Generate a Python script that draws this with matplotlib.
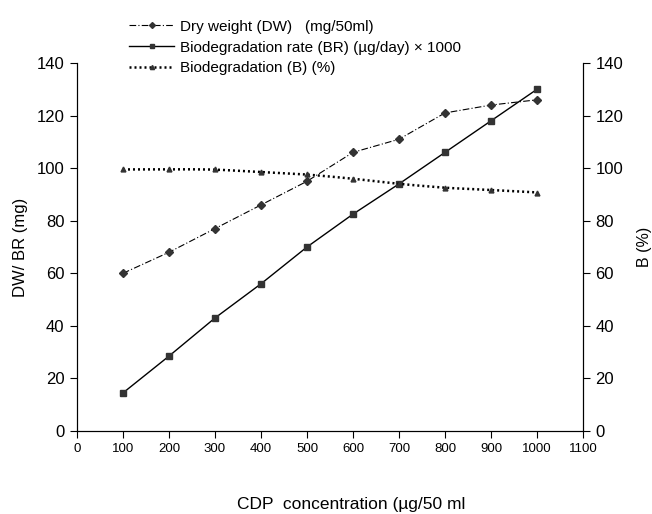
import numpy as np
import matplotlib
matplotlib.use('Agg')
import matplotlib.pyplot as plt
from matplotlib.lines import Line2D

plt.rcParams['font.family'] = ['Liberation Sans', 'DejaVu Sans']

conc = [100, 200, 300, 400, 500, 600, 700, 800, 900, 1000]
dw = [60, 68, 77, 86, 95, 106, 111, 121, 124, 126]          # mg/50ml
br = [14.5, 28.5, 43, 56, 70, 82.5, 94, 106, 118, 130]      # ug/day x 1000
bio = [99.5, 99.6, 99.5, 98.5, 97.6, 96, 94, 92.5, 91.7, 90.7]  # %

W, H = 652, 514
fig = plt.figure(figsize=(W/100, H/100), dpi=100)
ax = fig.add_axes([77/W, 1-431/H, (583-77)/W, (431-63)/H])
ax2 = ax.twinx()

dashdot = (0, (6, 2, 1, 2))
ax.plot(conc, dw, color='black', lw=0.8, ls=dashdot,
        marker='D', ms=4, mfc='#333333', mec='#333333')
ax.plot(conc, br, color='black', lw=1.0, ls='-',
        marker='s', ms=4, mfc='#333333', mec='#333333')

# smoothed line for B (spreadsheet style)
xs = np.linspace(conc[0], conc[-1], 200)
bs = np.interp(xs, conc, bio)
k = np.ones(15) / 15
bs_s = np.convolve(np.pad(bs, 7, mode='edge'), k, mode='valid')
ax2.plot(xs, bs_s, color='black', lw=1.8, ls=(0, (0.8, 1.2)))
ax2.plot(conc, bio, ls='none', marker='^', ms=3.5, mfc='#333333', mec='#333333')

for a in (ax, ax2):
    a.set_ylim(0, 140)
    a.set_yticks(np.arange(0, 141, 20))
    a.spines['top'].set_visible(False)
    a.tick_params(labelsize=12, direction='out', length=5, width=0.8, pad=4)
ax.set_xlim(0, 1100)
ax.set_xticks(np.arange(0, 1101, 100))
ax.tick_params(axis='x', labelsize=9.5)

fig.text(21/W, 1-247/H, 'DW/ BR (mg)', rotation=90, ha='center', va='center', fontsize=12)
fig.text(644/W, 1-247/H, 'B (%)', rotation=90, ha='center', va='center', fontsize=11.5)
fig.text(237/W, 1-504/H, 'CDP  concentration (µg/50 ml', ha='left', va='center', fontsize=12.5)

handles = [
    Line2D([], [], color='black', lw=0.8, ls=dashdot, marker='D', ms=3, mfc='#333333', mec='#333333'),
    Line2D([], [], color='black', lw=1.0, marker='s', ms=3, mfc='#333333', mec='#333333'),
    Line2D([], [], color='black', lw=1.8, ls=(0, (0.8, 1.2)), marker='^', ms=3, mfc='#333333', mec='#333333'),
]
labels = ['Dry weight (DW)   (mg/50ml)',
          'Biodegradation rate (BR) (µg/day) × 1000',
          'Biodegradation (B) (%)']
fig.legend(handles, labels, loc='upper left', bbox_to_anchor=(121/W, 1-12/H),
           frameon=False, fontsize=11, handlelength=3, handletextpad=0.33,
           labelspacing=0.45, borderpad=0)

fig.savefig('out.png', dpi=100)
